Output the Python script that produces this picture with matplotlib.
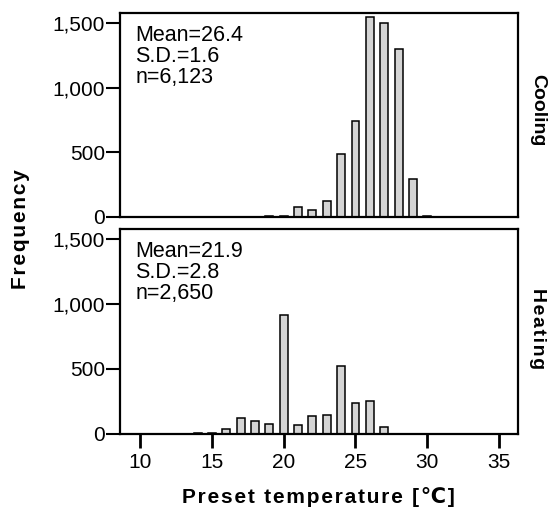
import matplotlib
matplotlib.use("Agg")
import matplotlib.pyplot as plt
from matplotlib.ticker import FuncFormatter

plt.rcParams['font.family'] = ['Liberation Sans', 'DejaVu Sans']

temps_cool = [19, 20, 21, 22, 23, 24, 25, 26, 27, 28, 29, 30, 31]
freq_cool = [10, 10, 77, 52, 121, 487, 744, 1551, 1504, 1298, 294, 10, 3]
temps_heat = [14, 15, 16, 17, 18, 19, 20, 21, 22, 23, 24, 25, 26, 27]
freq_heat = [3, 5, 36, 119, 93, 75, 918, 65, 135, 140, 518, 236, 251, 47]
stats_cool = ["Mean=26.4", "S.D.=1.6", "n=6,123"]
stats_heat = ["Mean=21.9", "S.D.=2.8", "n=2,650"]
panel_labels = ["Cooling", "Heating"]
x_ticks = [10, 15, 20, 25, 30, 35]
y_ticks = [0, 500, 1000, 1500]
x_label = "Preset temperature [\u2103]"
y_label = "Frequency"


def spaced(s, sp):
    return sp.join(s)


W, H = 549, 515
fig = plt.figure(figsize=(W / 100, H / 100), dpi=100)
L, R = 119.5 / W, 518 / W
ax1 = fig.add_axes([L, 1 - 217 / H, R - L, (217 - 13.3) / H])
ax2 = fig.add_axes([L, 1 - 433.5 / H, R - L, (433.5 - 229.3) / H])

fmt = FuncFormatter(lambda v, p: f"{int(v):,}")
label_y = [110, 329]
for ax, t, f, st, lab, ly in [(ax1, temps_cool, freq_cool, stats_cool, panel_labels[0], label_y[0]),
                              (ax2, temps_heat, freq_heat, stats_heat, panel_labels[1], label_y[1])]:
    ax.bar(t, f, width=0.55, color="#d4d4d4", edgecolor="black", linewidth=1.1)
    ax.set_xlim(8.56, 36.32)
    ax.set_ylim(0, 1578)
    ax.set_yticks(y_ticks)
    ax.yaxis.set_major_formatter(fmt)
    ax.tick_params(axis='y', direction='out', length=10, width=1.5, labelsize=15, pad=0.5)
    for s in ax.spines.values():
        s.set_linewidth(1.6)
    ax.text(0.04, 0.941, "\n".join(st), transform=ax.transAxes, fontsize=15.5,
            va='top', ha='left', linespacing=0.98)
    txt = lab if lab == panel_labels[0] else spaced(lab, "\u200a")
    fig.text(537.5 / W, 1 - ly / H, txt, rotation=-90, fontsize=14,
             fontweight='bold', va='center', ha='center')

ax1.set_xticks([])
ax2.set_xticks(x_ticks)
ax2.tick_params(axis='x', direction='out', length=10, width=2, labelsize=15, pad=4)

fig.text(0.5 * (L + R), 1 - 497 / H, spaced(x_label, "\u200a"), ha='center', va='center',
         fontsize=15, fontweight='bold')
fig.text(20.8 / W, 1 - 229 / H, spaced(y_label, "\u200a"), rotation=90, ha='center',
         va='center', fontsize=15, fontweight='bold')

fig.savefig("out.png", dpi=100)
